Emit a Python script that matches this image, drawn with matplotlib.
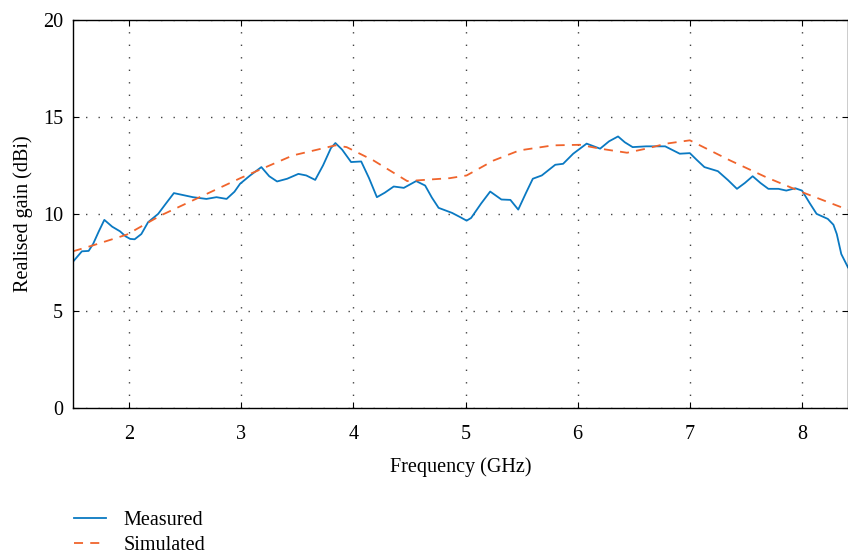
import matplotlib
matplotlib.use("Agg")
import matplotlib.pyplot as plt

plt.rcParams['font.family'] = ['Liberation Serif', 'DejaVu Serif']

meas_x = [1.50, 1.58, 1.64, 1.68, 1.73, 1.78, 1.81, 1.85, 1.92, 1.97, 2.01, 2.05, 2.11, 2.17, 2.26, 2.33, 2.40, 2.57,
          2.69, 2.78, 2.87, 2.94, 2.99, 3.08, 3.18, 3.25, 3.32, 3.41, 3.51, 3.58, 3.66, 3.73, 3.80, 3.84, 3.90,
          3.98, 4.07, 4.14, 4.21, 4.28, 4.36, 4.45, 4.56, 4.64, 4.70, 4.76, 4.88, 4.95, 5.01, 5.05, 5.14, 5.22, 5.32, 5.40,
          5.47, 5.54, 5.60, 5.68, 5.80, 5.87, 5.96, 6.08, 6.20, 6.28, 6.36, 6.42, 6.49, 6.61, 6.78, 6.91, 7.00,
          7.06, 7.13, 7.25, 7.34, 7.42, 7.49, 7.56, 7.63, 7.70, 7.79, 7.86, 7.94, 8.00, 8.07, 8.13, 8.23, 8.28, 8.31, 8.35, 8.41]
meas_y = [7.54, 8.08, 8.10, 8.46, 9.10, 9.70, 9.55, 9.35, 9.11, 8.85, 8.72, 8.70, 8.97, 9.58, 10.01, 10.55, 11.08, 10.87,
          10.78, 10.87, 10.78, 11.15, 11.56, 11.99, 12.42, 11.95, 11.68, 11.82, 12.07, 11.99, 11.76, 12.51, 13.40, 13.66, 13.32,
          12.68, 12.71, 11.85, 10.87, 11.10, 11.42, 11.35, 11.70, 11.47, 10.85, 10.32, 10.06, 9.85, 9.66, 9.80, 10.55, 11.16, 10.75, 10.73,
          10.23, 11.10, 11.82, 11.99, 12.54, 12.59, 13.11, 13.63, 13.37, 13.75, 14.00, 13.70, 13.45, 13.49, 13.49, 13.11, 13.14,
          12.80, 12.42, 12.21, 11.75, 11.30, 11.60, 11.95, 11.60, 11.30, 11.30, 11.21, 11.33, 11.21, 10.55, 10.01, 9.75, 9.45, 8.97, 7.94, 7.25]

sim_x = [1.50, 1.67, 1.98, 2.28, 2.63, 3.00, 3.46, 3.84, 3.94, 4.18, 4.48, 4.86, 5.01, 5.25,
         5.48, 5.78, 6.02, 6.20, 6.44, 6.61, 6.79, 7.00, 7.36, 7.68, 8.00, 8.41]
sim_y = [8.08, 8.37, 8.94, 9.92, 10.87, 11.87, 13.02, 13.54, 13.45, 12.76, 11.70, 11.85, 11.99, 12.76,
         13.28, 13.54, 13.57, 13.37, 13.16, 13.37, 13.63, 13.80, 12.76, 11.90, 11.13, 10.22]

x_ticks = [2, 3, 4, 5, 6, 7, 8]
y_ticks = [0, 5, 10, 15, 20]

fs = 14.5

fig = plt.figure(figsize=(8.48, 5.56), dpi=100)
ax = fig.add_axes([0.086, 0.266, 0.914, 0.698])

l1, = ax.plot(meas_x, meas_y, color='#0a79c2', lw=1.3, label='Measured',
              solid_joinstyle='round')
l2, = ax.plot(sim_x, sim_y, color='#f0642c', lw=1.3, ls=(0, (5, 4)), label='Simulated')

ax.set_xlim(1.5, 8.41)
ax.set_ylim(0, 20)
ax.set_xticks(x_ticks)
ax.set_yticks(y_ticks)
ax.grid(True, ls=(0, (1, 8)), color='#444444', lw=1.0)
ax.tick_params(direction='in', top=True, right=True, labelsize=fs, length=4)
ax.tick_params(axis='x', pad=12)
ax.tick_params(axis='y', pad=7)
for s in ax.spines.values():
    s.set_linewidth(1.0)
ax.set_xlabel('Frequency (GHz)', fontsize=fs, labelpad=10)
ax.set_ylabel('Realised gain (dBi)', fontsize=fs, labelpad=7)

fig.legend(handles=[l1, l2], loc='upper left', bbox_to_anchor=(0.078, 0.095),
           frameon=False, fontsize=fs, handlelength=1.6, labelspacing=0.3,
           borderaxespad=0, handletextpad=0.85)

fig.savefig('out.png', dpi=100)
